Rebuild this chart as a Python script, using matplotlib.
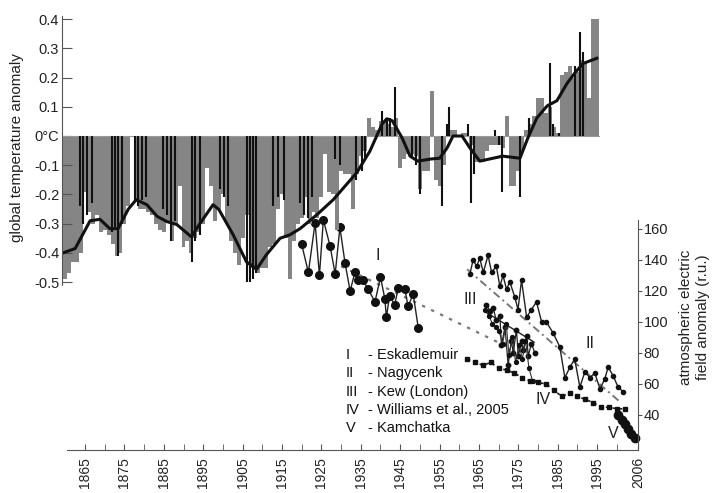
import matplotlib
matplotlib.use("Agg")
import matplotlib.pyplot as plt

plt.rcParams['font.family'] = ['Liberation Sans', 'DejaVu Sans']

# ---------------- temperature data (top panel) ----------------
temp_years = list(range(1860, 1996))
temp_gray = [
    -0.49, -0.47, -0.43, -0.43, -0.40, -0.19, -0.26, -0.30, -0.27, -0.33,
    -0.32, -0.34, -0.37, -0.41, -0.40, -0.30, -0.24, 0.00, -0.22, -0.25,
    -0.25, -0.26, -0.27, -0.30, -0.32, -0.33, -0.29, -0.36, -0.30, -0.17,
    -0.38, -0.36, -0.40, -0.35, -0.33, -0.30, -0.11, -0.17, -0.29, -0.25,
    -0.20, -0.30, -0.36, -0.40, -0.44, -0.35, -0.27, -0.45, -0.46, -0.47,
    -0.45, -0.45, -0.38, -0.37, -0.25, -0.20, -0.35, -0.49, -0.36, -0.30,
    -0.28, -0.21, -0.30, -0.26, -0.28, -0.21, -0.06, -0.19, -0.20, -0.32,
    -0.12, -0.13, -0.13, -0.25, -0.13, -0.07, -0.05, 0.06, 0.03, 0.02,
    0.05, 0.05, 0.04, 0.03, 0.06, -0.11, -0.08, -0.06, -0.06, -0.07,
    -0.18, -0.12, -0.12, 0.155, -0.15, -0.17, -0.10, 0.01, 0.02, 0.02,
    0.00, 0.01, 0.01, -0.03, -0.09, -0.09, -0.09, -0.05, -0.03, -0.03,
    -0.03, -0.04, 0.07, -0.17, -0.17, -0.12, -0.05, 0.02, 0.04, 0.07,
    0.13, 0.13, 0.08, 0.10, 0.03, 0.01, 0.21, 0.22, 0.24, 0.20,
    0.22, 0.26, 0.25, 0.13, 0.40, 0.40,
]

black_years = [1863.7, 1864.6, 1865.6, 1866.9, 1871.8, 1872.6, 1873.4, 1874.3,
               1877.7, 1878.5, 1879.4, 1880.6, 1884.9, 1885.7, 1886.7, 1887.8,
               1892.1, 1892.9, 1894.2, 1899.3, 1900.3, 1901.4,
               1906.0, 1906.9, 1907.7, 1908.5, 1912.8, 1914.1, 1915.4,
               1919.6, 1920.6, 1921.7, 1922.5, 1928.5, 1929.8,
               1933.9, 1935.2, 1936.0, 1940.3, 1941.6, 1942.4, 1943.7,
               1948.0, 1949.0, 1950.0, 1955.5, 1956.8, 1957.5, 1962.2,
               1963.0, 1963.8, 1969.1, 1970.0, 1970.8, 1975.4, 1977.6,
               1983.0, 1983.9, 1985.2, 1989.4, 1990.6, 1991.5]
black_vals = [-0.24, -0.30, -0.27, -0.23, -0.33, -0.31, -0.41, -0.30,
              -0.22, -0.24, -0.22, -0.21, -0.25, -0.27, -0.36, -0.29,
              -0.43, -0.36, -0.34, -0.18, -0.21, -0.24,
              -0.50, -0.50, -0.49, -0.47, -0.24, -0.21, -0.22,
              -0.23, -0.27, -0.28, -0.21, -0.08, -0.10,
              -0.15, -0.12, -0.08, 0.086, 0.06, 0.06, 0.167,
              -0.07, -0.10, -0.20, -0.24, 0.04, 0.10, 0.04,
              -0.23, -0.13, 0.02, -0.03, -0.19, -0.21, 0.06,
              0.25, 0.04, 0.01, 0.24, 0.357, 0.287]

smooth_years = [1859.4, 1862.5, 1866.3, 1868.8, 1871.3, 1873.4, 1876.0, 1878.0,
                1880.7, 1883.3, 1885.8, 1888.3, 1892.0, 1894.0, 1897.5, 1899.0,
                1902.6, 1906.0, 1908.6, 1911.0, 1914.5, 1917.0, 1919.6, 1923.8,
                1928.0, 1934.0, 1937.3, 1940.4, 1941.6, 1943.0, 1945.5, 1947.5,
                1949.5, 1952.6, 1955.0, 1956.9, 1958.4, 1960.7, 1962.7, 1965.2,
                1968.6, 1971.0, 1975.4, 1977.4, 1979.7, 1982.3, 1984.8, 1987.3,
                1989.4, 1991.4, 1994.9]
smooth_vals = [-0.40, -0.385, -0.29, -0.285, -0.317, -0.317, -0.25, -0.218,
               -0.235, -0.275, -0.293, -0.303, -0.345, -0.303, -0.235, -0.252,
               -0.338, -0.431, -0.455, -0.407, -0.35, -0.338, -0.317, -0.27,
               -0.218, -0.125, -0.052, 0.041, 0.059, 0.052, -0.007, -0.069,
               -0.086, -0.079, -0.076, -0.041, 0.0, 0.0, -0.041, -0.086,
               -0.076, -0.069, -0.076, -0.007, 0.062, 0.103, 0.121, 0.179,
               0.217, 0.248, 0.266]

temp_ticks = [0.4, 0.3, 0.2, 0.1, 0.0, -0.1, -0.2, -0.3, -0.4, -0.5]
temp_ticklabels = ['0.4', '0.3', '0.2', '0.1', '0\u00b0C', '-0.1', '-0.2', '-0.3', '-0.4', '-0.5']

# ---------------- electric field data (bottom panel) ----------------
I_years = [1920.0, 1921.7, 1923.4, 1924.5, 1925.5, 1927.2, 1928.5, 1929.7, 1931.0,
           1932.3, 1933.5, 1934.4, 1935.5, 1936.9, 1938.6, 1940.0, 1941.1, 1941.5,
           1942.3, 1943.6, 1944.5, 1946.2, 1947.0, 1948.3, 1949.6]
I_vals = [150, 132, 164, 130, 166, 149, 131, 161, 138, 120, 132, 127, 127, 121,
          113, 129, 115, 103, 117, 111, 122, 121, 110, 118, 96]

II_years = [1962.7, 1963.5, 1964.4, 1965.2, 1966.1, 1967.3, 1968.2, 1969.4, 1970.3,
            1971.1, 1972.0, 1972.8, 1974.1, 1974.9, 1975.8, 1977.1, 1978.3, 1979.6,
            1980.9, 1982.1, 1983.8, 1985.5, 1986.8, 1988.1, 1989.3, 1990.6, 1991.9,
            1993.1, 1994.4, 1995.7, 1996.9, 1997.8, 1999.1, 2000.3, 2001.6]
II_vals = [131, 140, 136, 141, 132, 143, 132, 136, 123, 130, 121, 126, 116, 108,
           127, 103, 108, 113, 100, 100, 93, 84, 64, 71, 76, 58, 68, 64, 67, 57,
           63, 71, 65, 58, 55]

III_years = [1966.9, 1967.8, 1968.6, 1969.4, 1970.3, 1970.7, 1971.6, 1972.4, 1973.2,
             1973.7, 1974.5, 1975.0, 1975.8, 1976.2, 1977.1, 1977.5, 1978.3, 1979.2]
III_vals = [111, 107, 109, 101, 104, 85, 97, 72, 88, 80, 95, 78, 88, 82, 91, 78, 86, 80]
IIIb_years = [1966.5, 1967.5, 1968.4, 1969.3, 1970.1, 1971.0, 1971.9, 1972.6, 1973.5,
              1974.3, 1975.2, 1976.0, 1976.8, 1977.7, 1978.6]
IIIb_vals = [108, 104, 99, 97, 94, 86, 99, 79, 90, 74, 85, 76, 88, 70, 62]

IV_years = [1962, 1964, 1966, 1968, 1970, 1972, 1974, 1976, 1978, 1980, 1982,
            1984, 1986, 1988, 1990, 1992, 1994, 1996, 1998, 2000, 2002]
IV_vals = [76, 74, 72, 74, 70, 69, 67, 64, 62, 61, 60, 56, 52, 54, 52, 50, 48,
           45, 45, 44, 44]

V_years = [2000.3, 2001.2, 2002.0, 2002.9, 2003.7, 2004.6]
V_vals = [40, 37, 34, 31, 28, 25]

trend_I_years = [1930, 1973]
trend_I_vals = [136, 83]
trend_II_years = [1962, 2001]
trend_II_vals = [134, 48]
trend_III_years = [1967, 1979]
trend_III_vals = [106, 87]

field_ticks = [40, 60, 80, 100, 120, 140, 160]
year_ticks = [1865, 1875, 1885, 1895, 1905, 1915, 1925, 1935, 1945, 1955,
              1965, 1975, 1985, 1995, 2005.3]
year_labels = ['1865', '1875', '1885', '1895', '1905', '1915', '1925', '1935',
               '1945', '1955', '1965', '1975', '1985', '1995', '2006']
year_minor = [1870, 1880, 1890, 1900, 1910, 1920, 1930, 1940, 1950, 1960,
              1970, 1980, 1990, 2000]

legend_num = ['I', 'II', 'III', 'IV', 'V']
legend_txt = ['- Eskadlemuir', '- Nagycenk', '- Kew (London)',
              '- Williams et al., 2005', '- Kamchatka']

# ---------------- figure ----------------
W, H = 712, 493
fig = plt.figure(figsize=(W / 100, H / 100), dpi=100)

def fx(px):
    return px / W

def fy(py):
    return 1 - py / H

# bottom panel (years / electric field)
axb = fig.add_axes([fx(67), fy(450), fx(638) - fx(67), fy(220) - fy(450)])
axb.patch.set_alpha(0)
axb.set_xlim(1860.43, 2005.36)
axb.set_ylim(17.4, 165.8)
for s in ['left', 'top']:
    axb.spines[s].set_visible(False)
axb.spines['right'].set_color('#555555')
axb.spines['bottom'].set_color('#555555')
axb.yaxis.tick_right()
axb.set_yticks(field_ticks)
axb.set_yticklabels([str(v) for v in field_ticks], fontsize=10.5, color='#222222')
axb.tick_params(axis='y', direction='out', length=3, pad=1, color='#555555')
axb.set_xticks(year_ticks)
axb.set_xticklabels(year_labels, rotation=90, fontsize=10, color='#222222')
axb.set_xticks(year_minor, minor=True)
axb.tick_params(axis='x', which='both', direction='in', length=4, pad=5, color='#555555')

# trend lines
axb.plot(trend_I_years, trend_I_vals, color='#777777', lw=1.6, ls=(0, (1.5, 3)))
axb.plot(trend_II_years, trend_II_vals, color='#777777', lw=1.4, ls=(0, (4, 2, 1, 2)))
axb.plot(trend_III_years, trend_III_vals, color='#222222', lw=1.0)

axb.plot(I_years, I_vals, color='#222222', lw=1.0, marker='o', ms=5.5,
         mfc='#111111', mec='#111111', clip_on=False)
axb.plot(II_years, II_vals, color='#222222', lw=1.0, marker='o', ms=3,
         mfc='#111111', mec='#111111')
axb.plot(III_years, III_vals, color='#222222', lw=0.9, marker='o', ms=3.2,
         mfc='#111111', mec='#111111')
axb.plot(IIIb_years, IIIb_vals, color='#333333', lw=0.8, marker='o', ms=2.8,
         mfc='#111111', mec='#111111')
axb.plot(IV_years, IV_vals, color='#222222', lw=1.2, ls=(0, (2, 2)), marker='s',
         ms=3, mfc='#111111', mec='#111111')
axb.plot(V_years, V_vals, color='#111111', lw=1.0, marker='o', ms=6,
         mfc='#111111', mec='#111111', clip_on=False)

# roman numerals in the plot
for txt, px, py in [('I', 378, 255), ('II', 590, 343), ('III', 470, 300),
                    ('IV', 543, 400), ('V', 613, 433)]:
    fig.text(fx(px), fy(py), txt, fontsize=11.5, ha='center', va='center', color='#222222')

# legend
rows = [355, 373, 392, 410, 428]
for num, txt, py in zip(legend_num, legend_txt, rows):
    fig.text(fx(346), fy(py), num, fontsize=10.5, ha='left', va='center', color='#111111')
    fig.text(fx(368), fy(py), txt, fontsize=10.5, ha='left', va='center', color='#111111')

# top panel (temperature)
axt = fig.add_axes([fx(62), fy(283), fx(638) - fx(62), fy(15) - fy(283)])
axt.patch.set_alpha(0)
axt.set_xlim(1859.16, 2005.36)
axt.set_ylim(-0.503, 0.414)
for s in ['right', 'top', 'bottom']:
    axt.spines[s].set_visible(False)
axt.spines['left'].set_color('#555555')
axt.spines['left'].set_bounds(-0.51, 0.41)
axt.set_xticks([])
axt.set_yticks(temp_ticks)
axt.set_yticklabels(temp_ticklabels, fontsize=10.5, color='#222222')
axt.tick_params(axis='y', direction='in', length=7, pad=2, color='#555555')

axt.bar(temp_years, temp_gray, width=1.0, color='#858585', linewidth=0)
axt.plot([1859.5, 1995.5], [0, 0], color='#999999', lw=0.8)
axt.vlines(black_years, 0, black_vals, color='#111111', lw=1.5)
axt.plot(smooth_years, smooth_vals, color='#111111', lw=2.2)

fig.text(fx(17), fy(148), 'global temperature anomaly', rotation=90,
         fontsize=11, ha='center', va='center', color='#222222')
fig.text(fx(686), fy(317), 'atmospheric electric', rotation=90,
         fontsize=11, ha='center', va='center', color='#222222')
fig.text(fx(703), fy(317), 'field anomaly (r.u.)', rotation=90,
         fontsize=11, ha='center', va='center', color='#222222')

fig.savefig('out.png', dpi=100)
